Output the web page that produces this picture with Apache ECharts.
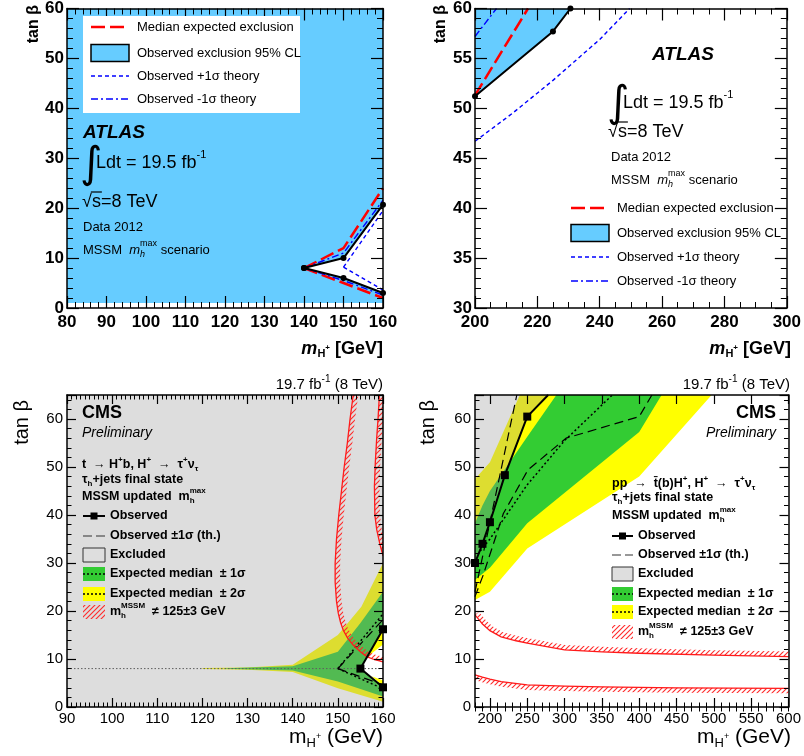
<!DOCTYPE html>
<html><head><meta charset="utf-8">
<script src="https://cdn.jsdelivr.net/npm/echarts@6.0.0/dist/echarts.min.js"></script>
<style>html,body{margin:0;padding:0;background:#fff}#c{width:804px;height:756px}</style>
</head><body><div id="c"></div>
<script>
// ================= DATA =================
// Panel A: ATLAS, m_H+ 80-160 GeV
const aXRange = [80, 160], aYRange = [0, 60];
const aObsUpper = [[140,8],[150,10],[160,20.7]];
const aObsLower = [[140,8],[150,6],[160,3]];
const aExpUpper = [[140,8],[150,12],[160,24]];
const aExpLower = [[140,8],[150,5],[160,2]];
const aPlusUpper = [[150,8.2],[160,19.5]];
const aPlusLower = [[150,8.2],[160,3.6]];
const aMinusUpper = [[140,8],[150,11],[160,21.6]];
const aMinusLower = [[140,8],[150,5.5],[160,2.6]];
const aFillFloor = 1;

// Panel B: ATLAS, m_H+ 200-300 GeV
const bXRange = [200, 300], bYRange = [30, 60];
const bObs = [[200,51.2],[225,57.7],[230.6,60]];
const bExp = [[200,51.3],[217,60]];
const bPlus = [[200,46.7],[212,49.5],[225,52.8],[240,56.9],[249.6,60]];
const bMinus = [[200,57.2],[206.9,60]];

// Panel C: CMS, m_H+ 90-160 GeV
const cXRange = [90, 160], cYRange = [0, 65];
const cObsUpper = [[155,8],[160,16.2]];
const cObsLower = [[155,8],[160,4.1]];
const cObsSigUp = [[150,8],[160,18.2]];
const cObsSigLo = [[150,8],[160,4.6]];
const cExpCenter = [[90,8],[160,8]];
const cExpUp = [[150,8],[160,19.4]];
const cExpLo = [[150,8],[160,3.8]];
const cYellowUp = [[120,8.1],[130,8.25],[140,8.8],[150,15],[155.2,20.9],[160,30]];
const cYellowLo = [[120,7.9],[130,7.75],[140,7.3],[150,3.9],[160,1.1]];
const cGreenUp = [[125,8.05],[140,8.5],[150,11.5],[155,17.5],[160,24]];
const cGreenLo = [[125,7.95],[140,7.6],[150,5.3],[160,2.2]];
const cWedgeYellow1 = [[156.5,10.4],[160,16.2],[160,13]];
const cWedgeYellow2 = [[157.5,6.4],[160,5.5],[160,4.4]];
const cHatchLeft = [[153.4,65],[152.7,60],[152.1,55],[151.4,50],[150.8,45],[150.2,40],[149.7,35],[149.4,30],[149.4,26],[149.7,22],[150.1,19.5],[150.6,17.6],[151.2,16],[152.2,14.3],[153.4,12.9],[155,11.5],[156.4,10.5],[158,9.9],[160,9.4]];
const cHatchRight = [[159.2,65],[158.9,60],[158.6,56],[158.3,51],[158.1,46],[158.2,40],[158.6,37],[159.3,34],[160,31.5]];

// Panel D: CMS, m_H+ 180-600 GeV
const dXRange = [180, 600], dYRange = [0, 65];
const dObs = [[180,30],[190,34],[200,38.5],[220,48.3],[250,60.5],[278,65]];
const dObsSigA = [[180,24],[198,37],[236,65]];
const dObsSigB = [[180,23],[191,27.5],[218,40.3],[251,49.4],[302,56],[400,60.5],[417,65]];
const dExp = [[187,32.5],[200,35],[250,46.3],[300,55.5],[364,65]];
const dYellowUp = [[180,47.5],[200,51],[240,65]];
const dYellowLo = [[180,22.3],[200,24],[250,33],[400,48],[497,65]];
const dGreenUp = [[180,38.3],[190,42],[200,45],[250,56.3],[289,65]];
const dGreenLo = [[180,26.5],[200,29],[250,38.3],[400,57.3],[430,65]];
const dHatchUp = [[180,19.2],[190,17.3],[200,15.9],[215,14.6],[235,13.8],[250,13.3],[300,11.9],[350,11.5],[400,11.2],[500,10.8],[600,10.5]];
const dHatchLo = [[180,6.7],[190,6.2],[200,5.8],[215,5.3],[250,4.6],[300,4.35],[350,4.2],[450,4],[600,3.9]];

// tick labels
const aXTicks = {interval:10}, aYTicks = {interval:10};
const bXTicks = {interval:20}, bYTicks = {interval:5};
const cXTicks = {interval:10}, cYTicks = {interval:10};
const dXMajor = [200,250,300,350,400,450,500,550,600];
const dYTicks = {interval:10};

// ================= HELPERS =================
const SANS = '"Liberation Sans", Arial, Helvetica, sans-serif';
function F(size, weight, style){ return (style||'normal')+' '+(weight||'normal')+' '+size+'px '+SANS; }
const mctx = document.createElement('canvas').getContext('2d');
function tw(t, font){ mctx.font = font; return mctx.measureText(t).width; }
function runs(x, y, parts, align){
  const out = [];
  let total = 0;
  parts.forEach(p => { total += (p.adv !== undefined ? p.adv : tw(p.t, p.f)); });
  let cx = align === 'right' ? x - total : x;
  parts.forEach(p => {
    out.push({type:'text', x:cx, y:y+(p.dy||0), z:30, silent:true,
      style:{text:p.t, font:p.f, fill:p.c||'#000', align:'left', verticalAlign:'middle', textAlign:'left', textVerticalAlign:'middle'}});
    cx += (p.adv !== undefined ? p.adv : tw(p.t, p.f));
  });
  return out;
}
function T(t,f,dy,adv,c){ return {t:t,f:f,dy:dy||0,adv:adv,c:c}; }
function gLine(x1,y1,x2,y2,color,w,dash){
  return {type:'line', z:30, silent:true, shape:{x1:x1,y1:y1,x2:x2,y2:y2}, style:{stroke:color, lineWidth:w, lineDash:dash||null}};
}
function gRect(x,y,w,h,fill,stroke,lw){
  return {type:'rect', z:29, silent:true, shape:{x:x,y:y,width:w,height:h}, style:{fill:fill, stroke:stroke||null, lineWidth:lw||0}};
}
function rotText(x,y,t,f){
  return {type:'text', x:x, y:y, rotation:Math.PI/2, z:30, silent:true,
    style:{text:t, font:f, fill:'#000', align:'right', verticalAlign:'middle', textAlign:'right', textVerticalAlign:'middle'}};
}
// hatch pattern
const hc = document.createElement('canvas'); hc.width = 5; hc.height = 5;
(function(){ const g = hc.getContext('2d'); g.strokeStyle = '#ff2a2a'; g.lineWidth = 1.1; g.beginPath();
  g.moveTo(0,5); g.lineTo(5,0); g.moveTo(-1,1); g.lineTo(1,-1); g.moveTo(4,6); g.lineTo(6,4); g.stroke(); })();
const HATCH = {image: hc, repeat: 'repeat'};

const BLUEFILL = '#66ccff', YEL = '#ffff00', GRN = '#33cc33', OVER = 'rgba(150,150,150,0.32)';

const grids = [
  {left:67, top:5, width:316, height:303},
  {left:475, top:5, width:316, height:303},
  {left:67, top:395, width:316, height:312},
  {left:475, top:395, width:316, height:312}
];
const atlasAx = {tl:12, ml:6, fs:17, fw:'bold', mx:6, my:3, lw:1.5};
const cmsAx = {tl:9, ml:4.5, fs:15, fw:'normal', mx:4, my:4, lw:1.5};
function mkAxis(kind, g, pos, rng, st, ticks, minor, hideMax){
  const lbl = (pos === 'bottom' || pos === 'left');
  const a = {type:'value', gridIndex:g, position:pos, min:rng[0], max:rng[1], z:10, silent:true,
    axisLine:{show:true, onZero:false, lineStyle:{color:'#000', width:st.lw}},
    axisTick:{show:true, inside:true, length:st.tl, lineStyle:{color:'#000', width:1.2}},
    minorTick:{show:!!minor, splitNumber:minor||5, length:st.ml, lineStyle:{color:'#000', width:1}},
    splitLine:{show:false}, minorSplitLine:{show:false},
    axisLabel:{show:lbl, margin:(kind==='x'?st.mx:st.my), color:'#000', fontSize:st.fs, fontWeight:st.fw, fontFamily:SANS}
  };
  if (hideMax) a.axisLabel.showMaxLabel = false;
  if (ticks.interval) a.interval = ticks.interval;
  if (ticks.custom) { a.axisTick.customValues = ticks.custom; a.axisLabel.customValues = ticks.custom; }
  return a;
}
const xAxes = [
  mkAxis('x',0,'bottom',aXRange,atlasAx,aXTicks,5), mkAxis('x',0,'top',aXRange,atlasAx,aXTicks,5),
  mkAxis('x',1,'bottom',bXRange,atlasAx,bXTicks,4), mkAxis('x',1,'top',bXRange,atlasAx,bXTicks,4),
  mkAxis('x',2,'bottom',cXRange,cmsAx,cXTicks,10), mkAxis('x',2,'top',cXRange,cmsAx,cXTicks,10),
  mkAxis('x',3,'bottom',dXRange,cmsAx,{custom:dXMajor},0), mkAxis('x',3,'top',dXRange,cmsAx,{custom:dXMajor},0)
];
// minor ticks for panel D x axis (every 10 GeV)
['bottom','top'].forEach(pos => {
  xAxes.push({type:'value', gridIndex:3, position:pos, min:dXRange[0], max:dXRange[1], interval:10, z:10, silent:true,
    axisLine:{show:false}, axisTick:{show:true, inside:true, length:cmsAx.ml, lineStyle:{color:'#000', width:1}},
    axisLabel:{show:false}, splitLine:{show:false}});
});
const yAxes = [
  mkAxis('y',0,'left',aYRange,atlasAx,aYTicks,5), mkAxis('y',0,'right',aYRange,atlasAx,aYTicks,5),
  mkAxis('y',1,'left',bYRange,atlasAx,bYTicks,5), mkAxis('y',1,'right',bYRange,atlasAx,bYTicks,5),
  mkAxis('y',2,'left',cYRange,cmsAx,cYTicks,5,true), mkAxis('y',2,'right',cYRange,cmsAx,cYTicks,5,true),
  mkAxis('y',3,'left',dYRange,cmsAx,dYTicks,5,true), mkAxis('y',3,'right',dYRange,cmsAx,dYTicks,5,true)
];

function ln(g, pts, color, width, type, z, sym){
  return {type:'line', xAxisIndex:2*g, yAxisIndex:2*g, data:pts, z:z||4, silent:true, clip:true,
    lineStyle:{color:color, width:width, type:type||'solid'},
    showSymbol:!!sym, symbol:sym?sym.s:'none', symbolSize:sym?sym.size:0,
    itemStyle:{color:sym?sym.c:color}, emphasis:{disabled:true}};
}
function poly(g, pts, style, z){
  return {type:'custom', xAxisIndex:2*g, yAxisIndex:2*g, z:z, silent:true, clip:true, data:[pts[0]],
    renderItem:function(p, api){ return {type:'polygon', shape:{points:pts.map(q => api.coord(q))}, style:style}; }};
}
function hatch(g, pts, side, w, z){
  return {type:'custom', xAxisIndex:2*g, yAxisIndex:2*g, z:z, silent:true, clip:true, data:[pts[0]],
    renderItem:function(p, api){
      const P = pts.map(q => api.coord(q));
      const O = P.map((pt,i) => { const a = P[Math.max(0,i-1)], b = P[Math.min(P.length-1,i+1)];
        const dx = b[0]-a[0], dy = b[1]-a[1]; const L = Math.hypot(dx,dy)||1;
        return [pt[0]+side*w*dy/L, pt[1]-side*w*dx/L]; });
      return {type:'group', children:[
        {type:'polygon', shape:{points:P.concat(O.slice().reverse())}, style:{fill:HATCH}},
        {type:'polyline', shape:{points:P}, style:{stroke:'#ff1a1a', lineWidth:1.3, fill:null}}
      ]};
    }};
}

// ================= SERIES =================
const series = [];
// Panel A
const aFill = [[aXRange[0],aFillFloor],[aXRange[1],aFillFloor]].concat(aObsLower.slice().reverse(), aObsUpper.slice(1), [[aXRange[1],aYRange[1]],[aXRange[0],aYRange[1]]]);
series.push(poly(0, aFill, {fill:BLUEFILL}, 1));
series.push(ln(0, aExpUpper, '#ff0000', 2.5, [14,5], 4));
series.push(ln(0, aExpLower, '#ff0000', 2.5, [14,5], 4));
series.push(ln(0, aMinusUpper, '#0000ff', 1.4, [7,3,2,3], 4));
series.push(ln(0, aMinusLower, '#0000ff', 1.4, [7,3,2,3], 4));
series.push(ln(0, aPlusUpper, '#0000ff', 1.4, [4,3], 4));
series.push(ln(0, aPlusLower, '#0000ff', 1.4, [4,3], 4));
series.push(ln(0, aObsUpper, '#000', 2, 'solid', 5, {s:'circle', size:6, c:'#000'}));
series.push(ln(0, aObsLower, '#000', 2, 'solid', 5, {s:'circle', size:6, c:'#000'}));
// Panel B
series.push(poly(1, bObs.concat([[bXRange[0], bYRange[1]]]), {fill:BLUEFILL}, 1));
series.push(ln(1, bExp, '#ff0000', 2.5, [14,5], 4));
series.push(ln(1, bMinus, '#0000ff', 1.4, [7,3,2,3], 4));
series.push(ln(1, bPlus, '#0000ff', 1.4, [4,3], 4));
series.push(ln(1, bObs, '#000', 2, 'solid', 5, {s:'circle', size:6, c:'#000'}));
// Panel C
series.push(poly(2, cYellowUp.concat(cYellowLo.slice().reverse()), {fill:YEL}, 1));
series.push(poly(2, cGreenUp.concat(cGreenLo.slice().reverse()), {fill:GRN}, 1));
series.push(ln(2, cExpCenter, '#444', 1, [1.5,2], 2));
series.push(poly(2, [cObsUpper[0], cObsUpper[1], cObsLower[1]], {fill:'#ffffff'}, 2));
series.push(poly(2, cWedgeYellow1, {fill:YEL}, 2));
series.push(poly(2, cWedgeYellow2, {fill:YEL}, 2));
const cExcl = [[cXRange[0],cYRange[0]],[cXRange[1],cYRange[0]]].concat(cObsLower.slice().reverse(), cObsUpper.slice(1), [[cXRange[1],cYRange[1]],[cXRange[0],cYRange[1]]]);
series.push(poly(2, cExcl, {fill:OVER}, 3));
series.push(ln(2, cExpUp, '#000', 1.5, [2,2.5], 4));
series.push(ln(2, cExpLo, '#000', 1.5, [2,2.5], 4));
series.push(ln(2, cObsSigUp, '#000', 1.2, [9,5], 4));
series.push(ln(2, cObsSigLo, '#000', 1.2, [9,5], 4));
series.push(hatch(2, cHatchLeft, 1, 5, 5));
series.push(hatch(2, cHatchRight, 1, 5, 5));
series.push(ln(2, [cObsUpper[1], cObsUpper[0], cObsLower[1]], '#000', 2, 'solid', 6, {s:'rect', size:8, c:'#000'}));
// Panel D
series.push(poly(3, dYellowUp.concat(dYellowLo.slice().reverse()), {fill:YEL}, 1));
series.push(poly(3, dGreenUp.concat(dGreenLo.slice().reverse()), {fill:GRN}, 1));
series.push(poly(3, dObs.concat([[dXRange[0], dYRange[1]]]), {fill:OVER}, 3));
series.push(hatch(3, dHatchUp, 1, 5, 5));
series.push(hatch(3, dHatchLo, -1, 5, 5));
series.push(ln(3, dExp, '#000', 1.5, [2,2.5], 4));
series.push(ln(3, dObsSigA, '#000', 1.2, [9,5], 4));
series.push(ln(3, dObsSigB, '#000', 1.2, [9,5], 4));
series.push(ln(3, dObs.map((p,i) => i < dObs.length-1 ? p : {value:p, symbol:'none'}), '#000', 2, 'solid', 6, {s:'rect', size:8, c:'#000'}));

// ================= TEXT / LEGENDS =================
const G = [];
function push(arr){ arr.forEach(e => G.push(e)); }
// --- ATLAS blocks ---
function atlasBlock(x, yAtlas, xInt, yInt, xL, yL, xS, yS, yData, yMssm, atlasX){
  push(runs(atlasX, yAtlas, [T('ATLAS', F(19,'bold','italic'))]));
  G.push({type:'text', x:xInt, y:yInt, z:30, silent:true, style:{text:'\u222B', font:'43px "DejaVu Sans"', fill:'#000', align:'left', verticalAlign:'middle', textAlign:'left', textVerticalAlign:'middle'}});
  push(runs(xL, yL, [T('Ldt = 19.5 fb', F(18)), T('-1', F(11), -8)]));
  const wr = tw('\u221A', F(18)), ws = tw('s', F(18));
  push(runs(xS, yS, [T('\u221A', F(18)), T('s=8 TeV', F(18))]));
  G.push(gLine(xS+wr-1, yS-10, xS+wr+ws+1, yS-10, '#000', 1.2));
  push(runs(x, yData, [T('Data 2012', F(13))]));
  const wmax = tw('max', F(9));
  push(runs(x, yMssm, [T('MSSM  ', F(13)), T('m', F(13,'normal','italic')), T('max', F(9), -6, 0), T('h', F(9,'normal','italic'), 4, wmax), T(' scenario', F(13))]));
}
function atlasLegend(x1, x2, xt, rows){
  G.push(gLine(x1, rows[0], x2, rows[0], '#ff0000', 2.5, [14,5]));
  push(runs(xt, rows[0], [T('Median expected exclusion', F(13))]));
  G.push(gRect(x1, rows[1]-8.5, x2-x1, 17, BLUEFILL, '#000', 1.5));
  push(runs(xt, rows[1], [T('Observed exclusion 95% CL', F(13))]));
  G.push(gLine(x1, rows[2], x2, rows[2], '#0000ff', 1.4, [4,3]));
  push(runs(xt, rows[2], [T('Observed +1\u03C3 theory', F(13))]));
  G.push(gLine(x1, rows[3], x2, rows[3], '#0000ff', 1.4, [7,3,2,3]));
  push(runs(xt, rows[3], [T('Observed -1\u03C3 theory', F(13))]));
}
// Panel A
G.push(gRect(83, 16, 217, 97, '#ffffff', null, 0));
atlasLegend(91, 129, 137, [27, 53, 76, 99]);
atlasBlock(83, 133, 80, 166, 96, 163, 82, 202, 227, 250, 83);
// Panel B
atlasBlock(611, 55, 607, 105, 623, 103, 608, 132, 157, 180, 652);
atlasLegend(571, 609, 617, [208, 233, 257, 281]);
// ATLAS axis titles
function atlasXTitle(xr, y){
  push(runs(xr, y, [T('m', F(18,'bold','italic')), T('H', F(11,'bold'), 5), T('+', F(8,'bold'), -1), T(' [GeV]', F(18,'bold'))], 'right'));
}
atlasXTitle(383, 349); atlasXTitle(791, 349);
G.push(rotText(34, 5, 'tan \u03B2', F(16,'bold')));
G.push(rotText(441, 5, 'tan \u03B2', F(16,'bold')));

// --- CMS blocks ---
function cmsXTitle(xr, y){
  push(runs(xr, y, [T('m', F(21)), T('H', F(13), 6), T('+', F(9), 0), T(' (GeV)', F(21))], 'right'));
}
cmsXTitle(383, 737); cmsXTitle(791, 737);
G.push(rotText(22, 400, 'tan \u03B2', F(20)));
G.push(rotText(428, 400, 'tan \u03B2', F(20)));
push(runs(383, 385, [T('19.7 fb', F(15)), T('-1', F(10), -6), T(' (8 TeV)', F(15))], 'right'));
push(runs(790, 385, [T('19.7 fb', F(15)), T('-1', F(10), -6), T(' (8 TeV)', F(15))], 'right'));

const B13 = F(12.5,'bold'), B8 = F(8,'bold');
function cmsLegend(x1, x2, xt, rows){
  const xm = (x1+x2)/2, w = x2-x1;
  G.push(gLine(x1, rows[0], x2, rows[0], '#000', 2));
  G.push(gRect(xm-3.5, rows[0]-3.5, 7, 7, '#000', null, 0));
  push(runs(xt, rows[0], [T('Observed', B13)]));
  G.push(gLine(x1, rows[1], x2, rows[1], '#333', 1.2, [9,4]));
  push(runs(xt, rows[1], [T('Observed \u00B11\u03C3 (th.)', B13)]));
  G.push(gRect(x1, rows[2]-7, w, 14, '#dedede', '#333', 1));
  push(runs(xt, rows[2], [T('Excluded', B13)]));
  G.push(gRect(x1, rows[3]-7, w, 14, GRN, null, 0));
  G.push(gLine(x1, rows[3], x2, rows[3], '#000', 1.5, [2,2]));
  push(runs(xt, rows[3], [T('Expected median  \u00B1 1\u03C3', B13)]));
  G.push(gRect(x1, rows[4]-7, w, 14, YEL, null, 0));
  G.push(gLine(x1, rows[4], x2, rows[4], '#000', 1.5, [2,2]));
  push(runs(xt, rows[4], [T('Expected median  \u00B1 2\u03C3', B13)]));
  G.push(gRect(x1, rows[5]-7, w, 14, HATCH, null, 0));
  const wm = tw('MSSM', B8);
  push(runs(xt, rows[5], [T('m', B13), T('MSSM', B8, -6, 0), T('h', B8, 4, wm), T('  \u2260 125\u00B13 GeV', B13)]));
}
function cmsProcessLines(x, y1, y2, y3, first){
  push(runs(x, y1, first));
  push(runs(x, y2, [T('\u03C4', B13), T('h', B8, 4), T('+jets final state', B13)]));
  const wmax = tw('max', B8);
  push(runs(x, y3, [T('MSSM updated  m', B13), T('max', B8, -6, 0), T('h', B8, 4, wmax)]));
}
// Panel C
push(runs(82, 413, [T('CMS', F(18,'bold'))]));
push(runs(82, 433, [T('Preliminary', F(14,'normal','italic'))]));
cmsProcessLines(82, 465, 480, 497, [T('t  \u2192 H', B13), T('+', B8, -5), T('b, H', B13), T('+', B8, -5), T('  \u2192  \u03C4', B13), T('+', B8, -5), T('\u03BD', B13), T('\u03C4', B8, 4)]);
cmsLegend(83, 105, 110, [516, 536, 555, 574, 594, 612]);
// Panel D
push(runs(776, 413, [T('CMS', F(18,'bold'))], 'right'));
push(runs(776, 433, [T('Preliminary', F(14,'normal','italic'))], 'right'));
cmsProcessLines(612, 484, 498, 516, [T('pp  \u2192  t\u0304(b)H', B13), T('+', B8, -5), T(', H', B13), T('+', B8, -5), T('  \u2192  \u03C4', B13), T('+', B8, -5), T('\u03BD', B13), T('\u03C4', B8, 4)]);
cmsLegend(612, 633, 638, [536, 555, 574, 594, 612, 632]);

// ================= CHART =================
const chart = echarts.init(document.getElementById('c'), null, {renderer:'canvas'});
chart.setOption({
  animation:false,
  backgroundColor:'#ffffff',
  grid:grids,
  xAxis:xAxes,
  yAxis:yAxes,
  series:series,
  graphic:{elements:G}
});
</script></body></html>
